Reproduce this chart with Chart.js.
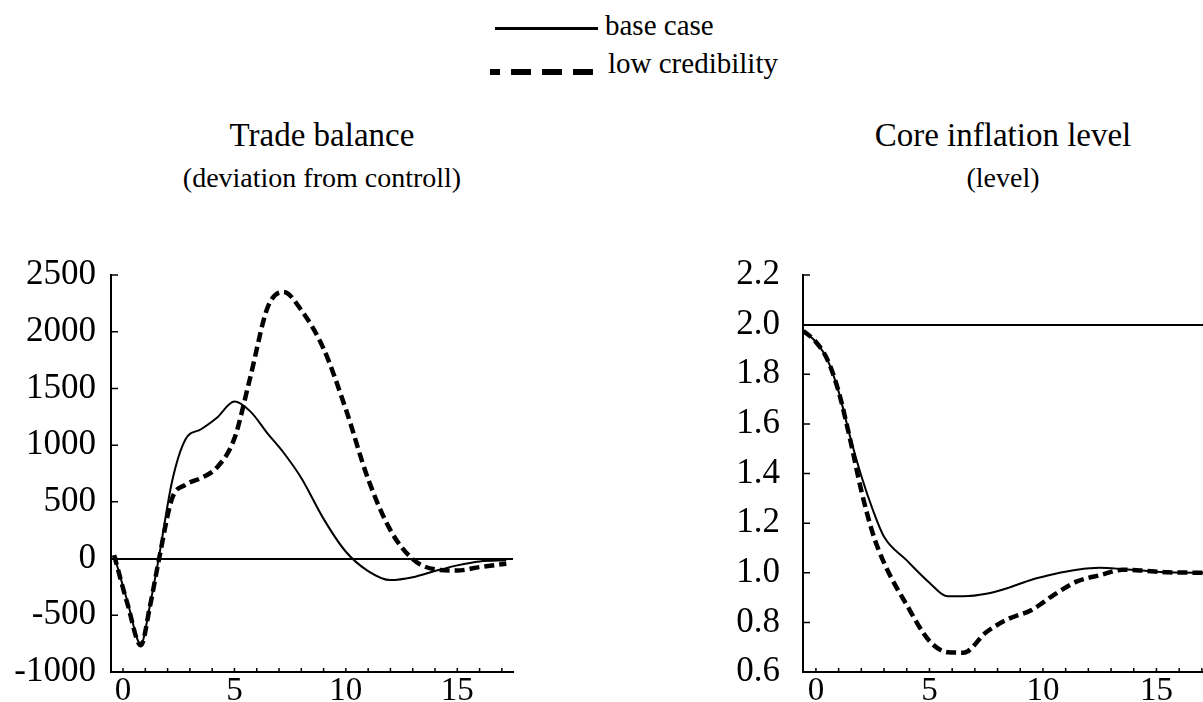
<!DOCTYPE html>
<html>
<head>
<meta charset="utf-8">
<script src="https://cdn.jsdelivr.net/npm/chart.js@4.4.1/dist/chart.umd.min.js"></script>
<style>
  html, body { margin: 0; padding: 0; background: #fff; overflow: hidden; }
  body { width: 1203px; height: 702px; position: relative; font-family: "Liberation Serif", "DejaVu Serif", serif; color: #000; }
  .txt { position: absolute; white-space: nowrap; line-height: 1; }
  .legend-text { font-size: 29px; }
  .sample { position: absolute; }
  .sample.solid { left: 495px; top: 27px; width: 103px; height: 3px; background: #000; }
  .sample.dashed { left: 490px; top: 69px; width: 103px; height: 6px;
    background: repeating-linear-gradient(to right, #000 0 20px, transparent 20px 31px); background-position: -10px 0; }
  .title-main { font-size: 33px; width: 500px; text-align: center; }
  .title-sub { font-size: 28px; width: 500px; text-align: center; }
  canvas { position: absolute; }
</style>
</head>
<body>

<div class="sample solid"></div>
<div class="txt legend-text" style="left:605px; top:11px">base case</div>
<div class="sample dashed"></div>
<div class="txt legend-text" style="left:608px; top:49px">low credibility</div>

<div class="txt title-main" style="left:72px; top:119px">Trade balance</div>
<div class="txt title-sub" style="left:72px; top:164px">(deviation from controll)</div>
<div class="txt title-main" style="left:753px; top:119px">Core inflation level</div>
<div class="txt title-sub" style="left:753px; top:164px">(level)</div>

<canvas id="TradeChart" width="600" height="452" style="left:0; top:250px"></canvas>
<canvas id="InflationChart" width="513" height="452" style="left:690px; top:250px"></canvas>

<script>
// Trade balance (deviation from control)
const tradeX = [-0.4, 0.2, 0.8, 1.2, 1.6, 2.2, 2.8, 3.5, 4.2, 5, 5.7, 6.5, 7.2, 8, 9, 10, 11, 12, 13, 14, 15, 16, 17.2];
const tradeBase = [30, -380, -755, -420, 0, 680, 1050, 1140, 1240, 1385, 1300, 1100, 935, 710, 350, 60, -110, -190, -165, -110, -60, -25, -15];
const tradeLow = [30, -400, -765, -430, -20, 530, 650, 710, 800, 1060, 1590, 2220, 2350, 2190, 1850, 1315, 700, 250, -5, -95, -105, -75, -45];
const tradeYTicks = [-1000, -500, 0, 500, 1000, 1500, 2000, 2500];

// Core inflation level
const inflX = [-0.55, 0, 0.5, 1, 1.5, 2, 2.5, 3, 4, 5, 5.8, 6.5, 7.5, 8.5, 9.5, 10.5, 11.5, 12.5, 13.5, 14.5, 15.5, 17.3];
const inflBase = [1.975, 1.93, 1.86, 1.73, 1.55, 1.39, 1.255, 1.145, 1.05, 0.96, 0.905, 0.905, 0.915, 0.94, 0.972, 0.995, 1.012, 1.02, 1.015, 1.008, 1.002, 1.0];
const inflLow = [1.975, 1.93, 1.86, 1.73, 1.54, 1.33, 1.16, 1.04, 0.87, 0.725, 0.68, 0.678, 0.76, 0.815, 0.85, 0.912, 0.965, 0.99, 1.012, 1.008, 1.002, 1.0];
const inflYTicks = [0.6, 0.8, 1.0, 1.2, 1.4, 1.6, 1.8, 2.0, 2.2];

const xTicks = [0, 5, 10, 15];
const seriesNames = ['base case', 'low credibility'];

const serif = '"Liberation Serif", "DejaVu Serif", serif';

function toPoints(xs, ys) {
  let pts = [];
  for (let i = 0; i < xs.length; i++) {
    pts.push({ x: xs[i], y: ys[i] });
  }
  return pts;
}

// small inward tick marks along both axes
const innerTicks = {
  id: 'innerTicks',
  afterDraw(chart) {
    const ctx = chart.ctx;
    const x = chart.scales.x, y = chart.scales.y;
    const area = chart.chartArea;
    ctx.save();
    ctx.strokeStyle = '#000';
    ctx.lineWidth = 1.5;
    ctx.beginPath();
    for (let v = 0; v <= Math.floor(x.max); v++) {
      let px = x.getPixelForValue(v);
      ctx.moveTo(px, area.bottom);
      ctx.lineTo(px, area.bottom - 4);
    }
    y.ticks.forEach(t => {
      let py = y.getPixelForValue(t.value);
      ctx.moveTo(area.left, py);
      ctx.lineTo(area.left + 7, py);
    });
    ctx.stroke();
    ctx.restore();
  }
};

// keep the plot box where it is in the original (no extra label padding)
function noPadding(scale) {
  scale.paddingTop = 0;
  scale.paddingBottom = 0;
  scale.paddingLeft = 0;
  scale.paddingRight = 0;
}

function makeChart(canvasId, xs, base, low, yTicks, opts) {
  const config = {
    type: 'line',
    data: {
      datasets: [{
        label: seriesNames[0],
        data: toPoints(xs, base),
        borderColor: '#000',
        borderWidth: 2,
        pointRadius: 0,
        cubicInterpolationMode: 'monotone'
      }, {
        label: seriesNames[1],
        data: toPoints(xs, low),
        borderColor: '#000',
        borderWidth: 4.5,
        borderDash: [10, 5],
        pointRadius: 0,
        cubicInterpolationMode: 'monotone'
      }]
    },
    options: {
      responsive: false,
      animation: false,
      devicePixelRatio: 1,
      layout: { padding: { top: 25, right: opts.padRight, bottom: 0, left: 0 } },
      plugins: {
        legend: { display: false },
        tooltip: { enabled: false }
      },
      scales: {
        x: {
          type: 'linear',
          min: opts.xMin,
          max: opts.xMax,
          afterBuildTicks: (scale) => { scale.ticks = xTicks.map(v => ({ value: v })); },
          afterFit: (scale) => { scale.height = 30; noPadding(scale); },
          grid: { display: false, drawTicks: false },
          border: { display: true, color: '#000', width: 2 },
          ticks: { color: '#000', font: { family: serif, size: 33 }, padding: 0, maxRotation: 0, autoSkip: false }
        },
        y: {
          type: 'linear',
          min: yTicks[0],
          max: yTicks[yTicks.length - 1],
          afterBuildTicks: (scale) => { scale.ticks = yTicks.map(v => ({ value: v })); },
          afterFit: (scale) => { scale.width = opts.yWidth; noPadding(scale); },
          grid: {
            drawTicks: false,
            lineWidth: 2,
            color: (c) => (c.tick && c.tick.value === opts.refLine) ? '#000' : 'rgba(0,0,0,0)'
          },
          border: { display: true, color: '#000', width: 2 },
          ticks: {
            color: '#000',
            font: { family: serif, size: 35 },
            padding: opts.yPad,
            autoSkip: false,
            callback: opts.yFormat
          }
        }
      }
    },
    plugins: [innerTicks]
  };
  return new Chart(document.getElementById(canvasId), config);
}

makeChart('TradeChart', tradeX, tradeBase, tradeLow, tradeYTicks, {
  xMin: -0.54, xMax: 17.5, padRight: 87, yWidth: 111, yPad: 15, refLine: 0,
  yFormat: (v) => String(v)
});

makeChart('InflationChart', inflX, inflBase, inflLow, inflYTicks, {
  xMin: -0.57, xMax: 17.05, padRight: 0, yWidth: 113, yPad: 23, refLine: 2.0,
  yFormat: (v) => Number(v).toFixed(1)
});
</script>
</body>
</html>
